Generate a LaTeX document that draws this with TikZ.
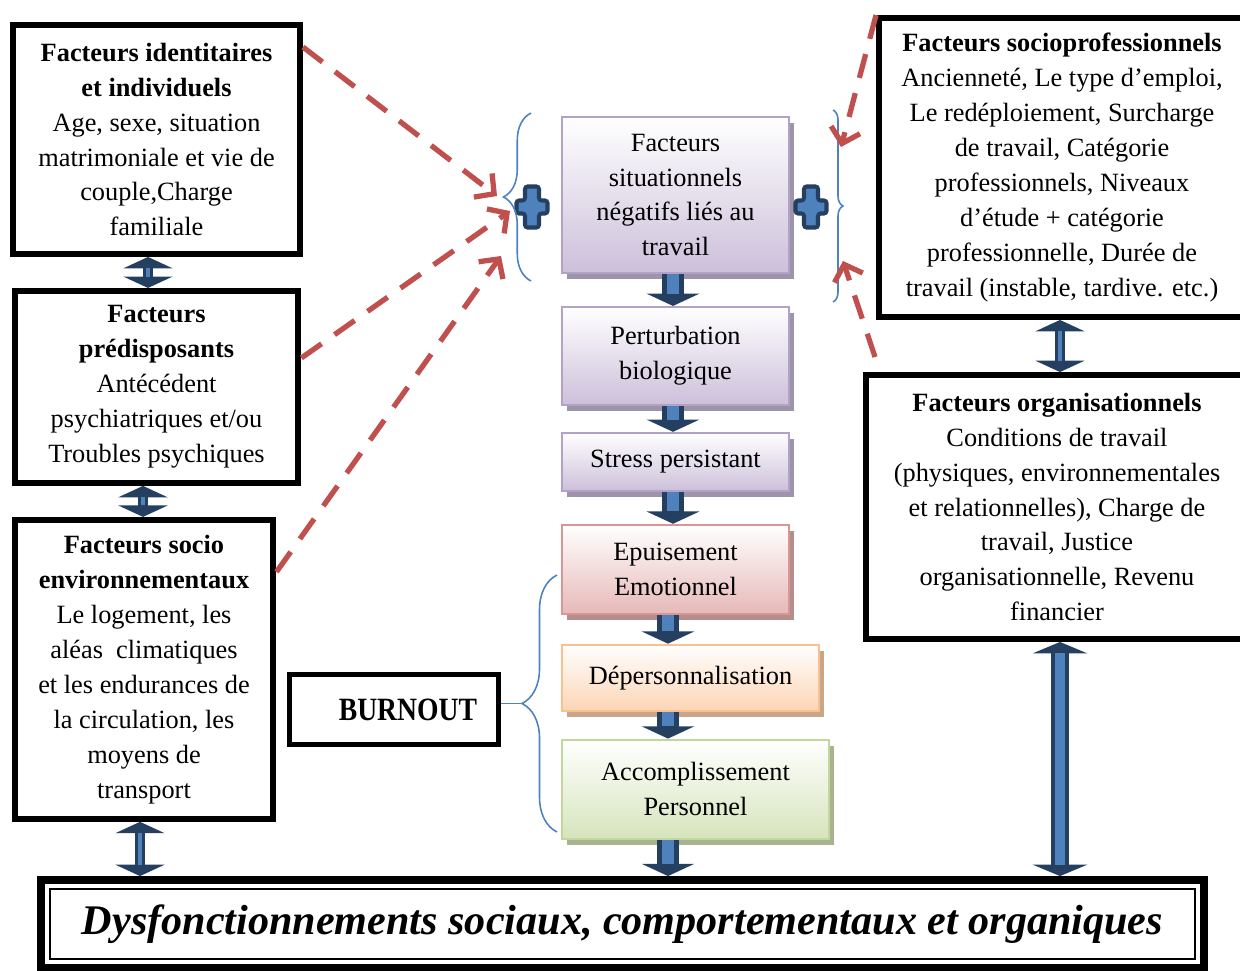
\documentclass[tikz,border=0pt]{standalone}
\usepackage{fontspec}
\setmainfont{Liberation Serif}
\newfontfamily\burnfont[FakeStretch=0.85]{Liberation Serif}
\usetikzlibrary{arrows.meta, positioning, shadows, decorations.pathreplacing}

\definecolor{arrowDark}{RGB}{36,63,96}
\definecolor{arrowFill}{RGB}{79,129,189}
\definecolor{dashRed}{RGB}{192,80,77}
\definecolor{braceBlue}{RGB}{79,129,189}
\definecolor{lilacLine}{RGB}{179,162,199}
\definecolor{lilacFill}{RGB}{204,192,218}
\definecolor{roseLine}{RGB}{217,150,148}
\definecolor{roseFill}{RGB}{230,185,184}
\definecolor{peachLine}{RGB}{250,192,144}
\definecolor{peachFill}{RGB}{252,213,181}
\definecolor{leafLine}{RGB}{195,214,155}
\definecolor{leafFill}{RGB}{215,228,189}

\begin{document}
\begin{tikzpicture}[x=0.02cm, y=-0.02cm,
    factor/.style={rectangle, draw=black, line width=3.4pt, align=center, inner sep=0pt, font=\fontsize{15}{19.9}\selectfont},
    stage/.style={rectangle, draw=lilacLine, line width=1.1pt, top color=white, bottom color=lilacFill, align=center, inner sep=0pt, font=\fontsize{15}{19.9}\selectfont, minimum width=4.54cm, drop shadow={shadow xshift=0.1cm, shadow yshift=-0.12cm, fill=lilacLine!60!gray, opacity=1}},
    rose/.style={stage, draw=roseLine, bottom color=roseFill, drop shadow={shadow xshift=0.1cm, shadow yshift=-0.12cm, fill=roseLine!60!gray, opacity=1}},
    peach/.style={stage, draw=peachLine, bottom color=peachFill, drop shadow={shadow xshift=0.1cm, shadow yshift=-0.12cm, fill=peachLine!60!gray, opacity=1}},
    leaf/.style={stage, draw=leafLine, bottom color=leafFill, drop shadow={shadow xshift=0.1cm, shadow yshift=-0.12cm, fill=leafLine!60!gray, opacity=1}},
    flow/.style={draw=arrowFill, line width=6.8pt, shorten >=7pt, preaction={draw=arrowDark, line width=12.5pt, shorten >=0pt, -{Triangle[length=7pt, width=30pt, line width=1pt]}}},
    dflow/.style={draw=arrowFill, line width=2.8pt, shorten >=6.5pt, shorten <=6.5pt, preaction={draw=arrowDark, line width=5.7pt, shorten >=0pt, shorten <=0pt, {Triangle[length=6.5pt, width=28pt, line width=1pt]}-{Triangle[length=6.5pt, width=28pt, line width=1pt]}}},
    dflowwide/.style={draw=arrowFill, line width=5.5pt, shorten >=6.5pt, shorten <=6.5pt, preaction={draw=arrowDark, line width=10pt, shorten >=0pt, shorten <=0pt, {Triangle[length=6.5pt, width=31pt, line width=1pt]}-{Triangle[length=6.5pt, width=31pt, line width=1pt]}}},
    risk/.style={draw=dashRed, line width=3pt, dash pattern=on 14pt off 9pt, -{Straight Barb[length=8pt, width=17pt]}},
    bracket/.style={draw=braceBlue, line width=0.9pt},
    plussign/.pic={\draw[line width=2.3pt, draw=arrowDark, fill=arrowFill, rounded corners=1.5pt] (-7,-20.5) -- (7,-20.5) -- (7,-6.5) -- (15.5,-6.5) -- (15.5,6.5) -- (7,6.5) -- (7,20.5) -- (-7,20.5) -- (-7,6.5) -- (-15.5,6.5) -- (-15.5,-6.5) -- (-7,-6.5) -- cycle;}]

    \useasboundingbox (0,0) rectangle (1240,970);
    \clip (0,0) rectangle (1240,970);

    % Left factors
    \node (f_ident) [factor, minimum width=5.74cm, minimum height=4.58cm] at (156.5,139.5) {\textbf{Facteurs identitaires}\\\textbf{et individuels}\\Age, sexe, situation\\matrimoniale et vie de\\couple,Charge\\familiale};
    \node (f_predis) [factor, minimum width=5.68cm, minimum height=3.84cm, below=0.62cm of f_ident] {\textbf{Facteurs}\\\textbf{prédisposants}\\Antécédent\\psychiatriques et/ou\\Troubles psychiques};
    \node (f_env) [factor, minimum width=5.18cm, minimum height=5.98cm, below=0.62cm of f_predis.south west, anchor=north west] {\textbf{Facteurs socio}\\\textbf{environnementaux}\\Le logement, les\\aléas~ climatiques\\et les endurances de\\la circulation, les\\moyens de\\transport};

    % Right factors
    \node (f_socpro) [factor, minimum width=7.32cm, minimum height=5.98cm] at (1062,167.5) {\textbf{Facteurs socioprofessionnels}\\Ancienneté, Le type d’emploi,\\Le redéploiement, Surcharge\\de travail, Catégorie\\professionnels, Niveaux\\d’étude + catégorie\\professionnelle, Durée de\\travail (instable, tardive. etc.)};
    \node (f_orga) [factor, minimum width=7.64cm, minimum height=5.28cm] at (1057,507) {\textbf{Facteurs organisationnels}\\Conditions de travail\\(physiques, environnementales\\et relationnelles), Charge de\\travail, Justice\\organisationnelle, Revenu\\financier};

    % Central chain
    \node (s_situ) [stage, minimum height=3.12cm] at (675.5,195) {Facteurs\\situationnels\\négatifs liés au\\travail};
    \node (s_bio) [stage, minimum height=1.96cm, below=0.64cm of s_situ] {Perturbation\\biologique};
    \node (s_stress) [stage, minimum height=1.16cm, below=0.52cm of s_bio] {Stress persistant};
    \node (b_epuis) [rose, minimum height=1.78cm, below=0.64cm of s_stress] {Epuisement\\Emotionnel};
    \node (b_deper) [peach, minimum width=5.14cm, minimum height=1.32cm, below=0.58cm of b_epuis.south west, anchor=north west] {Dépersonnalisation};
    \node (b_accomp) [leaf, minimum width=5.34cm, minimum height=1.98cm, below=0.54cm of b_deper.south west, anchor=north west] {Accomplissement\\Personnel};

    % Burnout and outcome
    \node (burnout) [factor, line width=2.8pt, minimum height=1.40cm, text width=3.32cm, inner xsep=0.43cm, align=right, font=\burnfont\bfseries\fontsize{18.5}{20}\selectfont] at (394,709.5) {BURNOUT};
    \node (dysf) [factor, line width=4.5pt, minimum width=23.26cm, minimum height=1.76cm, font=\fontsize{24}{28}\selectfont\bfseries\itshape] at (622.5,924) {Dysfonctionnements sociaux, comportementaux et organiques};
    \draw[line width=1.1pt] ([shift={(0.26cm,-0.26cm)}]dysf.north west) rectangle ([shift={(-0.26cm,0.26cm)}]dysf.south east);

    % Plus signs and braces
    \pic at (532,207) {plussign};
    \pic at (811,207) {plussign};
    \draw[bracket, decorate, decoration={brace, amplitude=0.55cm}] (531,281) -- (531,113);
    \draw[bracket, decorate, decoration={brace, amplitude=0.2cm}] (833,110) -- (833,302);
    \draw[bracket, decorate, decoration={brace, amplitude=0.7cm}] (557,832) -- (557,575);
    \coordinate (b_tip) at (522,703.5);
    \draw[bracket] (b_tip) -- (b_tip -| burnout.east);

    % Arrow axes and targets
    \coordinate (ax_l1) at (148,0);
    \coordinate (ax_l2) at (143,0);
    \coordinate (ax_l3) at (140,0);
    \coordinate (ax_c1) at (673,0);
    \coordinate (ax_c2) at (668,0);
    \coordinate (ax_r) at (1060,0);
    \coordinate (in_a) at (497,196);
    \coordinate (in_b) at (510,211);
    \coordinate (in_c) at (501,256);
    \coordinate (in_d) at (841,147);
    \coordinate (in_e) at (843,261);

    % Connections
    \draw[flow] (ax_c1 |- s_situ.south) -- (ax_c1 |- s_bio.north);
    \draw[flow] (ax_c1 |- s_bio.south) -- (ax_c1 |- s_stress.north);
    \draw[flow] (ax_c1 |- s_stress.south) -- (ax_c1 |- b_epuis.north);
    \draw[flow] (ax_c2 |- b_epuis.south) -- (ax_c2 |- b_deper.north);
    \draw[flow] (ax_c2 |- b_deper.south) -- (ax_c2 |- b_accomp.north);
    \draw[flow] (ax_c2 |- b_accomp.south) -- (ax_c2 |- dysf.north);

    \draw[dflow] (ax_l1 |- f_ident.south) -- (ax_l1 |- f_predis.north);
    \draw[dflow] (ax_l2 |- f_predis.south) -- (ax_l2 |- f_env.north);
    \draw[dflow] (ax_l3 |- f_env.south) -- (ax_l3 |- dysf.north);
    \draw[dflow] (ax_r |- f_socpro.south) -- (ax_r |- f_orga.north);
    \draw[dflowwide] (ax_r |- f_orga.south) -- (ax_r |- dysf.north);

    \draw[risk] ([yshift=-0.5cm]f_ident.north east) -- (in_a);
    \draw[risk] ([yshift=0.58cm]f_predis.east) -- (in_b);
    \draw[risk] ([yshift=-1.1cm]f_env.north east) -- (in_c);
    \draw[risk] (f_socpro.north west) -- (in_d);
    \draw[risk] ([xshift=0.24cm, yshift=0.3cm]f_orga.north west) -- (in_e);

\end{tikzpicture}
\end{document}
